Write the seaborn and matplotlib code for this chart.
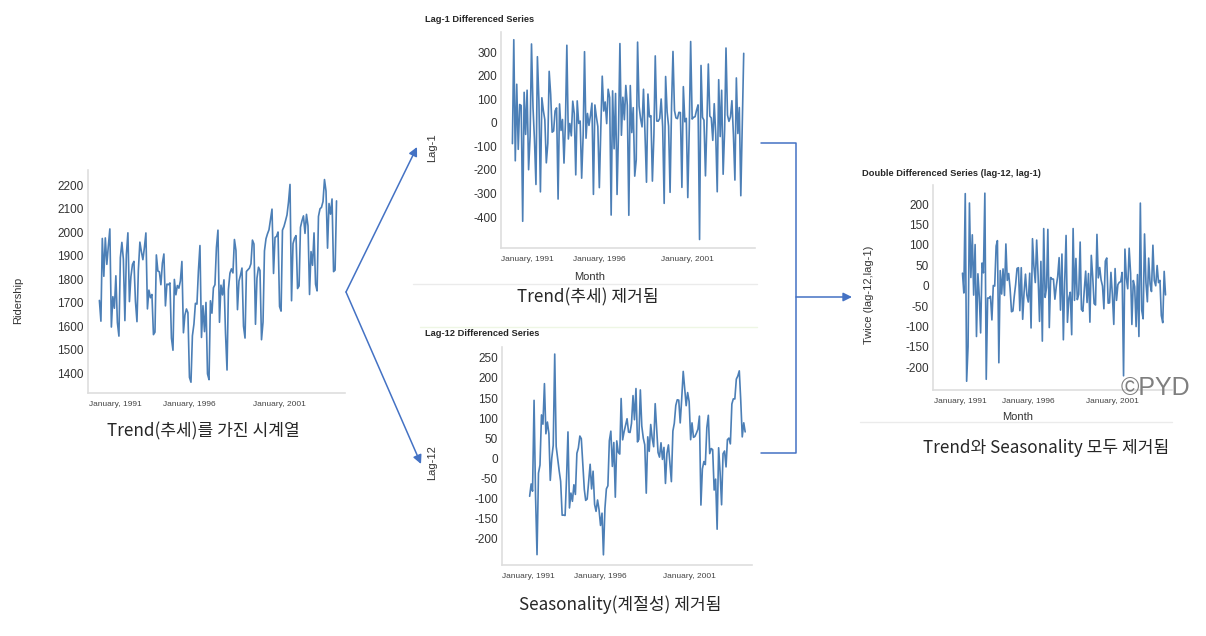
import matplotlib
matplotlib.use("Agg")
import matplotlib.pyplot as plt
import matplotlib.dates as mdates
from matplotlib.transforms import ScaledTranslation
import numpy as np
import pandas as pd
import seaborn as sns

# Amtrak 월별 승객 수 (1991.01 ~ 2004.03)
ridership = [
    1708.917, 1620.586, 1972.715, 1811.665, 1974.964, 1862.356, 1939.860, 2013.264, 1595.657, 1724.924, 1675.667, 1813.863,
    1614.827, 1557.088, 1891.223, 1955.981, 1884.714, 1623.042, 1903.309, 1996.712, 1703.897, 1810.000, 1861.601, 1875.122,
    1705.259, 1618.535, 1836.709, 1957.043, 1917.185, 1882.398, 1933.009, 1996.167, 1672.841, 1752.827, 1720.377, 1734.292,
    1563.365, 1573.959, 1902.639, 1833.888, 1831.049, 1775.755, 1867.508, 1906.608, 1685.632, 1778.546, 1775.995, 1783.350,
    1548.415, 1496.925, 1798.316, 1732.895, 1772.345, 1761.207, 1791.655, 1874.820, 1571.309, 1646.948, 1672.631, 1656.845,
    1381.758, 1360.852, 1558.575, 1608.420, 1696.696, 1693.183, 1835.516, 1942.573, 1551.401, 1686.508, 1576.204, 1700.433,
    1396.588, 1371.690, 1707.522, 1654.604, 1762.903, 1775.800, 1934.219, 2008.055, 1615.924, 1773.910, 1732.368, 1796.626,
    1570.330, 1412.691, 1754.641, 1824.932, 1843.289, 1825.964, 1968.172, 1921.645, 1669.597, 1791.474, 1816.714, 1846.754,
    1599.427, 1548.804, 1832.333, 1839.720, 1846.498, 1864.852, 1965.743, 1949.002, 1607.373, 1803.664, 1850.309, 1836.435,
    1541.660, 1616.928, 1919.538, 1971.493, 1992.301, 2009.763, 2053.996, 2097.471, 1823.706, 1976.997, 1981.408, 2000.153,
    1683.148, 1663.404, 2007.928, 2023.792, 2047.008, 2072.913, 2126.717, 2202.638, 1707.693, 1950.716, 1973.614, 1984.729,
    1759.629, 1770.595, 2019.912, 2048.398, 2068.763, 1994.267, 2075.258, 2026.560, 1734.155, 1916.771, 1858.345, 1996.352,
    1778.033, 1749.489, 2066.466, 2098.899, 2104.911, 2129.671, 2223.349, 2174.360, 1931.406, 2121.470, 2076.054, 2140.677,
    1831.508, 1838.006, 2132.446,
]
start_month = "1991-01-01"
tick_years = ["1991-01-01", "1996-01-01", "2001-01-01"]
tick_labels = ["January, 1991", "January, 1996", "January, 2001"]

df = pd.DataFrame({
    "Month": pd.date_range(start_month, periods=len(ridership), freq="MS"),
    "Ridership": ridership,
})
df["Lag-1"] = df["Ridership"].diff(1)
df["Lag-12"] = df["Ridership"].diff(12)
df["Twice"] = df["Lag-12"].diff(1)

sns.set_theme(style="white")
plt.rcParams["font.family"] = ["Liberation Sans", "Noto Sans CJK KR", "DejaVu Sans"]

W, H = 1206, 636
fig = plt.figure(figsize=(W / 100, H / 100), dpi=100)

LINE = "#4c7fb6"
SPINE = "#dedede"
ARROW = "#4472C4"
KR = ["Noto Sans CJK KR", "DejaVu Sans"]


def box(l, t, r, b):
    return [l / W, 1 - b / H, (r - l) / W, (b - t) / H]


def panel(rect, col, xlim, ylim, yticks, ylabel, ylab_xy, xlabel=None, xlab_xy=None):
    ax = fig.add_axes(box(*rect))
    d = df.dropna(subset=[col])
    sns.lineplot(data=d, x="Month", y=col, ax=ax, color=LINE, lw=1.2)
    ax.set_xlim(pd.Timestamp(xlim[0]), pd.Timestamp(xlim[1]))
    ax.set_ylim(*ylim)
    ax.set_yticks(yticks)
    ax.set_yticklabels([str(v) for v in yticks])
    ax.set_xticks([mdates.date2num(pd.Timestamp(t)) for t in tick_years])
    ax.tick_params(axis="y", length=0, pad=3, labelsize=8.5, labelcolor="#333333")
    ax.tick_params(axis="x", length=3, color=SPINE, pad=3, labelsize=6, labelcolor="#444444")
    ax.set_xticklabels(tick_labels)
    for s in ["top", "right"]:
        ax.spines[s].set_visible(False)
    for s in ["left", "bottom"]:
        ax.spines[s].set_color(SPINE)
        ax.spines[s].set_linewidth(1.2)
    # 첫 번째 눈금 라벨은 축 왼쪽 끝에 맞춤
    first = ax.get_xticklabels()[0]
    first.set_ha("left")
    first.set_transform(first.get_transform() + ScaledTranslation(-10 / 100, 0, fig.dpi_scale_trans))
    ax.set_ylabel(ylabel, fontsize=8, color="#333333")
    ax.yaxis.set_label_coords(*ylab_xy)
    if xlabel:
        ax.set_xlabel(xlabel, fontsize=8, color="#333333")
        ax.xaxis.set_label_coords(*xlab_xy)
    else:
        ax.set_xlabel("")
    return ax


panel((88, 170, 345, 393), "Ridership", ("1990-05-15", "2004-08-20"), (1315, 2264),
      list(range(1400, 2201, 100)), "Ridership", (-0.252, 0.417))
panel((501, 32, 755, 248), "Lag-1", ("1990-06-10", "2004-10-20"), (-531, 385),
      list(range(-400, 301, 100)), "Lag-1", (-0.252, 0.463), "Month", (0.35, -0.11))
panel((502, 347, 752, 565), "Lag-12", ("1990-06-10", "2004-07-20"), (-265, 277),
      list(range(-200, 251, 50)), "Lag-12", (-0.258, 0.47))
panel((933, 185, 1172, 390), "Twice", ("1990-05-01", "2004-07-20"), (-256, 247),
      list(range(-200, 201, 50)), "Twice (lag-12,lag-1)", (-0.247, 0.463), "Month", (0.356, -0.105))

# 도식 요소(화살표, 구분선, 캡션)는 픽셀 좌표 오버레이에 그림
ov = fig.add_axes([0, 0, 1, 1])
ov.set_xlim(0, W)
ov.set_ylim(H, 0)
ov.axis("off")
ov.patch.set_alpha(0)

ov.text(425, 19, "Lag-1 Differenced Series", fontsize=6.7, fontweight="bold", va="center", ha="left")
ov.text(425, 333, "Lag-12 Differenced Series", fontsize=6.7, fontweight="bold", va="center", ha="left")
ov.text(862, 173, "Double Differenced Series (lag-12, lag-1)", fontsize=6.7, fontweight="bold", va="center", ha="left")

ov.plot([413, 757], [284, 284], color="#ebebeb", lw=1)
ov.plot([420, 757], [327, 327], color="#eef6e4", lw=1)
ov.plot([860, 1172], [422, 422], color="#ebebeb", lw=1)

ov.text(203, 431, "Trend(추세)를 가진 시계열", fontsize=12.3, family=KR, ha="center", va="center")
ov.text(588, 297, "Trend(추세) 제거됨", fontsize=12.3, family=KR, ha="center", va="center")
ov.text(620, 605, "Seasonality(계절성) 제거됨", fontsize=12.3, family=KR, ha="center", va="center")
ov.text(1046, 448, "Trend와 Seasonality 모두 제거됨", fontsize=12.3, family=KR, ha="center", va="center")

arrow = dict(arrowstyle="-|>", color=ARROW, lw=1.1, mutation_scale=13, shrinkA=0, shrinkB=0)
ov.annotate("", xy=(417, 147), xytext=(346, 292), arrowprops=arrow)
ov.annotate("", xy=(421, 464), xytext=(346, 292), arrowprops=arrow)
ov.plot([761, 796, 796, 761], [143, 143, 453, 453], color=ARROW, lw=1.1)
ov.annotate("", xy=(852, 297), xytext=(796, 297), arrowprops=arrow)

ov.text(1155, 388, "©PYD", fontsize=18, color="#7f7f7f", ha="center", va="center")

fig.savefig("out.png", dpi=100)
